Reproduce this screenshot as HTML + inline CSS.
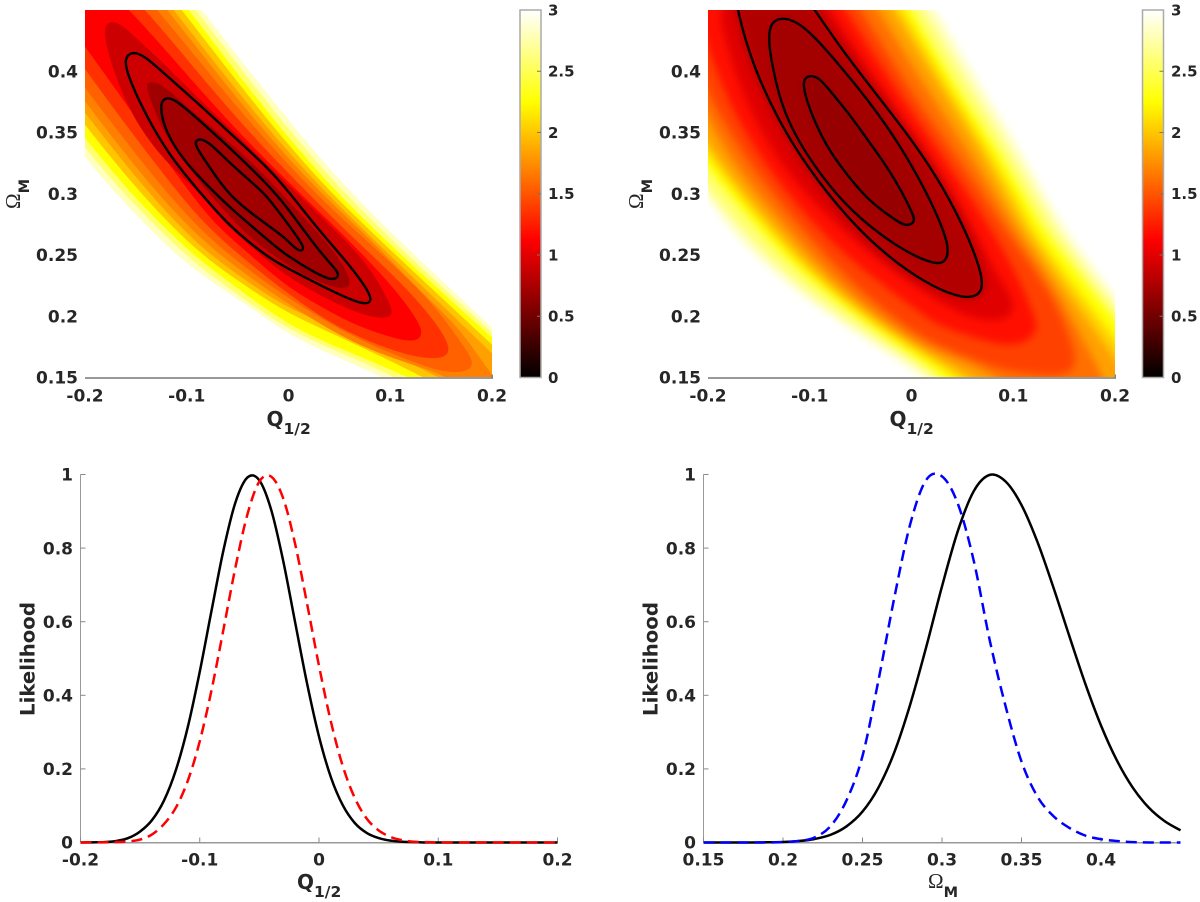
<!DOCTYPE html>
<html><head><meta charset="utf-8"><title>Likelihood contours</title>
<style>
html,body{margin:0;padding:0;background:#fff;width:1200px;height:902px;overflow:hidden}
svg{display:block}
text{font-family:"DejaVu Sans","Liberation Sans",sans-serif;font-weight:700;fill:#262626}
.om{font-family:"Liberation Serif",serif;font-weight:400}
</style></head>
<body>
<svg id="fig" xmlns="http://www.w3.org/2000/svg" width="1200" height="902" viewBox="0 0 1200 902">
<defs>
<linearGradient id="hotGrad" x1="0" y1="1" x2="0" y2="0">
<stop offset="0" stop-color="#000"/><stop offset="0.375" stop-color="#f00"/><stop offset="0.75" stop-color="#ff0"/><stop offset="1" stop-color="#fff"/>
</linearGradient>
<clipPath id="clipA"><rect x="85" y="10" width="407" height="367.5"/></clipPath>
<clipPath id="clipB"><rect x="708" y="10" width="407" height="367.5"/></clipPath>
<filter id="smooth" x="-10%" y="-10%" width="120%" height="120%" color-interpolation-filters="sRGB"><feGaussianBlur stdDeviation="4"/></filter>
</defs>
<g id="panelA"></g>
<g id="panelB"></g>
<g id="panelC"></g>
<g id="panelD"></g>

<rect x="520" y="10" width="21" height="367.5" fill="url(#hotGrad)" stroke="#aaa" stroke-width="1.5"/>
<rect x="1142.5" y="10" width="21" height="367.5" fill="url(#hotGrad)" stroke="#aaa" stroke-width="1.5"/>

<text x="266.5" y="426" font-size="20">Q<tspan font-size="15.5" dy="8">1/2</tspan></text>
<text x="889.5" y="426" font-size="20">Q<tspan font-size="15.5" dy="8">1/2</tspan></text>
<text transform="translate(20,209) rotate(-90)"><tspan class="om" font-size="21">Ω</tspan><tspan font-size="14.5" dy="9">M</tspan></text>
<text transform="translate(643,209) rotate(-90)"><tspan class="om" font-size="21">Ω</tspan><tspan font-size="14.5" dy="9">M</tspan></text>
<text x="297" y="889" font-size="20">Q<tspan font-size="15.5" dy="8">1/2</tspan></text>
<text x="928" y="888"><tspan class="om" font-size="21">Ω</tspan><tspan font-size="14.5" dy="9">M</tspan></text>
<text transform="translate(34.5,659) rotate(-90)" text-anchor="middle" font-size="19.7">Likelihood</text>
<text transform="translate(657.5,659) rotate(-90)" text-anchor="middle" font-size="19.7">Likelihood</text>
</svg>
<script>
// ---- tick values ----
const qTicks = [-0.2, -0.1, 0, 0.1, 0.2];
const qTickLabels = ['-0.2', '-0.1', '0', '0.1', '0.2'];
const omegaTicks = [0.15, 0.2, 0.25, 0.3, 0.35, 0.4];
const omegaTickLabels = ['0.15', '0.2', '0.25', '0.3', '0.35', '0.4'];
const likeTicks = [0, 0.2, 0.4, 0.6, 0.8, 1];
const likeTickLabels = ['0', '0.2', '0.4', '0.6', '0.8', '1'];
const cbarTicks = [0, 0.5, 1, 1.5, 2, 2.5, 3];
const cbarTickLabels = ['0', '0.5', '1', '1.5', '2', '2.5', '3'];

// ---- left contour map: iso-lines as [Q, Omega] vertices, outermost first ----
const aLevelValues = [2.81, 2.58, 2.25, 2.0, 1.83, 1.69, 1.55, 1.34, 1.125, 0.9, 0.705];
const aLevel1 = [[-.108,.475],[-.085,.45],[-.003,.362],[.058,.303],[.131,.244],[.2,.191],[.247,.154],[.247,.115],[.129,.131],[.095,.15],[.046,.167],[-.003,.186],[-.036,.207],[-.069,.224],[-.102,.244],[-.134,.269],[-.173,.303],[-.2,.33],[-.234,.364],[-.234,.475]];
const aLevel2 = [[-.115,.475],[-.091,.45],[-.01,.362],[.051,.303],[.124,.244],[.2,.187],[.247,.15],[.247,.111],[.144,.131],[.11,.149],[.046,.172],[-.003,.19],[-.052,.219],[-.099,.247],[-.166,.303],[-.2,.338],[-.234,.372],[-.234,.475]];
const aLevel3 = [[-.121,.475],[-.098,.45],[-.017,.362],[.044,.303],[.118,.244],[.2,.183],[.247,.146],[.247,.107],[.159,.131],[.124,.149],[.046,.175],[-.003,.194],[-.05,.223],[-.095,.25],[-.159,.303],[-.2,.346],[-.234,.38],[-.234,.475]];
const aLevel4 = [[-.128,.475],[-.105,.45],[-.023,.362],[.038,.303],[.113,.244],[.2,.177],[.247,.14],[.247,.103],[.173,.131],[.137,.149],[.051,.183],[-.003,.203],[-.048,.228],[-.091,.253],[-.149,.303],[-.2,.356],[-.234,.393],[-.234,.475]];
const aLevel5 = [[-.136,.475],[-.113,.45],[-.03,.362],[.033,.303],[.107,.244],[.2,.17],[.247,.131],[.247,.095],[.188,.131],[.152,.149],[.056,.187],[-.003,.207],[-.045,.231],[-.087,.256],[-.141,.303],[-.2,.366],[-.234,.403],[-.234,.475]];
const aLevel6 = [[-.143,.475],[-.119,.45],[-.036,.362],[.028,.303],[.078,.265],[.129,.221],[.162,.195],[.18,.176],[.2,.152],[.218,.131],[.188,.135],[.159,.148],[.146,.154],[.112,.163],[.062,.178],[-.003,.211],[-.043,.235],[-.083,.26],[-.133,.303],[-.2,.375],[-.234,.413],[-.234,.475]];
const aLevel7 = [[-.156,.475],[-.128,.45],[-.043,.362],[.023,.303],[.068,.268],[.127,.224],[.154,.197],[.17,.178],[.182,.164],[.179,.155],[.154,.153],[.112,.166],[.062,.183],[-.003,.216],[-.041,.239],[-.079,.264],[-.123,.303],[-.2,.386],[-.234,.425],[-.234,.475]];
const aLevel8 = [[-.171,.475],[-.139,.45],[-.053,.362],[.016,.303],[.062,.265],[.112,.227],[.146,.194],[.16,.174],[.154,.165],[.127,.166],[.095,.174],[.046,.191],[-.003,.22],[-.038,.243],[-.074,.268],[-.112,.303],[-.2,.401],[-.234,.442],[-.234,.475]];
const aLevel9 = [[-.19,.475],[-.154,.45],[-.064,.362],[.008,.303],[.046,.273],[.095,.232],[.126,.199],[.133,.185],[.124,.178],[.095,.184],[.062,.194],[.029,.209],[-.003,.225],[-.036,.249],[-.069,.272],[-.1,.303],[-.2,.421],[-.234,.458],[-.234,.475]];
const aLevel10 = [[-.179,.441],[-.166,.44],[-.151,.428],[-.118,.403],[-.085,.375],[-.053,.35],[-.016,.32],[.009,.3],[.046,.27],[.078,.243],[.1,.211],[.103,.201],[.093,.197],[.062,.204],[.029,.218],[-.003,.233],[-.033,.254],[-.064,.276],[-.089,.303],[-.118,.323],[-.151,.358],[-.172,.399],[-.182,.43]];
const aLevel11 = [[-.138,.392],[-.124,.39],[-.102,.372],[-.069,.35],[-.036,.326],[-.003,.297],[.029,.268],[.046,.252],[.059,.234],[.061,.226],[.055,.222],[.039,.225],[.016,.233],[-.003,.243],[-.036,.262],[-.069,.291],[-.092,.315],[-.121,.346],[-.134,.373],[-.14,.387]];
const aConfOuter = [[-.155,.416],[-.143,.414],[-.118,.395],[-.085,.371],[-.053,.346],[-.02,.321],[-.001,.303],[.029,.271],[.062,.24],[.079,.22],[.082,.212],[.074,.209],[.046,.219],[-.003,.24],[-.02,.248],[-.058,.273],[-.089,.303],[-.118,.332],[-.144,.37],[-.159,.399],[-.161,.41]];
const aConfMiddle = [[-.121,.379],[-.111,.377],[-.085,.358],[-.053,.334],[-.02,.307],[-.003,.291],[.029,.254],[.047,.238],[.05,.233],[.044,.229],[.029,.234],[-.003,.25],[-.02,.262],[-.058,.289],[-.08,.307],[-.102,.326],[-.121,.35],[-.127,.373]];
const aConfInner = [[-.091,.345],[-.08,.344],[-.058,.325],[-.03,.305],[-.02,.297],[.006,.268],[.014,.258],[.015,.254],[.009,.253],[-.003,.264],[-.02,.274],[-.058,.297],[-.08,.325],[-.092,.339]];

// ---- right contour map ----
const bLevelValues = [2.81, 2.58, 2.25, 2.04, 1.83, 1.62, 1.41, 1.19, 0.99, 0.88, 0.78, 0.72, 0.66];
const bLevel1 = [[.012,.466],[.023,.45],[.072,.382],[.108,.333],[.141,.284],[.157,.263],[.2,.217],[.228,.184],[.228,.119],[.051,.119],[.014,.15],[-.024,.17],[-.08,.2],[-.137,.236],[-.182,.274],[-.2,.298],[-.231,.328],[-.3,.5]];
const bLevel2 = [[0,.466],[.012,.45],[.061,.382],[.098,.333],[.132,.284],[.147,.263],[.2,.207],[.228,.176],[.228,.119],[.062,.119],[.025,.15],[-.02,.174],[-.077,.204],[-.131,.24],[-.176,.279],[-.2,.305],[-.231,.335],[-.3,.5]];
const bLevel3 = [[-.011,.466],[0,.45],[.047,.382],[.087,.333],[.12,.284],[.136,.263],[.2,.1975],[.228,.166],[.228,.119],[.07,.119],[.035,.15],[-.016,.177],[-.071,.21],[-.122,.245],[-.171,.291],[-.2,.321],[-.231,.355],[-.3,.5]];
const bLevel4 = [[-.02,.466],[-.009,.45],[.04,.382],[.078,.333],[.111,.284],[.124,.263],[.2,.181],[.228,.151],[.228,.119],[.085,.119],[.049,.15],[-.014,.18],[-.068,.212],[-.118,.249],[-.178,.306],[-.2,.333],[-.231,.364],[-.3,.5]];
const bLevel5 = [[-.03,.466],[-.018,.45],[.032,.382],[.07,.333],[.101,.284],[.117,.263],[.158,.214],[.2,.165],[.228,.135],[.228,.119],[.1,.119],[.062,.15],[.027,.164],[-.011,.183],[-.065,.215],[-.114,.252],[-.186,.322],[-.2,.344],[-.231,.374],[-.3,.5]];
const bLevel6 = [[-.045,.466],[-.033,.45],[.017,.382],[.057,.333],[.092,.284],[.108,.263],[.145,.219],[.175,.17],[.19,.149],[.196,.119],[.115,.119],[.093,.15],[.027,.17],[-.007,.185],[-.062,.219],[-.107,.257],[-.174,.322],[-.2,.363],[-.227,.404],[-.3,.5]];
const bLevel7 = [[-.062,.466],[-.05,.45],[0,.382],[.042,.333],[.082,.284],[.098,.263],[.138,.219],[.16,.175],[.162,.158],[.148,.15],[.093,.155],[.06,.165],[.027,.176],[-.002,.189],[-.056,.225],[-.099,.263],[-.159,.322],[-.197,.377],[-.2,.385],[-.223,.431],[-.3,.5]];
const bLevel8 = [[-.077,.466],[-.065,.45],[-.013,.382],[.029,.333],[.068,.284],[.084,.263],[.108,.227],[.122,.1975],[.124,.189],[.114,.179],[.093,.175],[.06,.183],[.027,.192],[.01,.202],[-.047,.237],[-.09,.269],[-.144,.322],[-.182,.377],[-.205,.431],[-.23,.49]];
const bLevel9 = [[-.092,.466],[-.08,.45],[-.026,.382],[.017,.333],[.053,.284],[.066,.263],[.085,.233],[.1,.214],[.1,.2],[.08,.195],[.055,.2],[.029,.21],[-.035,.246],[-.08,.279],[-.129,.322],[-.165,.377],[-.186,.431],[-.193,.466]];
const bLevel10 = [[-.1,.466],[-.089,.45],[-.036,.39],[.001,.35],[.031,.314],[.058,.274],[.074,.235],[.077,.219],[.064,.212],[.042,.214],[.012,.223],[-.026,.245],[-.065,.275],[-.107,.318],[-.139,.363],[-.163,.409],[-.176,.45],[-.18,.466]];
const bConfOuter = [[-.174,.466],[-.171,.45],[-.158,.409],[-.133,.363],[-.103,.322],[-.062,.279],[-.024,.249],[.014,.227],[.044,.216],[.063,.215],[.071,.223],[.067,.241],[.051,.274],[.025,.314],[-.005,.35],[-.043,.39],[-.073,.423],[-.095,.45],[-.109,.466],[-.137,.477]];
const bConfMiddle = [[-.128,.444],[-.113,.441],[-.095,.428],[-.073,.407],[-.043,.377],[-.013,.342],[.014,.303],[.033,.268],[.037,.252],[.032,.243],[.021,.243],[-.005,.252],[-.043,.274],[-.073,.298],[-.103,.331],[-.126,.366],[-.137,.404],[-.141,.428],[-.138,.44]];
const bConfInner = [[-.101,.397],[-.091,.395],[-.08,.384],[-.062,.366],[-.043,.344],[-.024,.322],[-.009,.301],[.001,.284],[.004,.277],[-.005,.273],[-.017,.279],[-.043,.295],[-.065,.317],[-.084,.339],[-.099,.366],[-.106,.385],[-.106,.393]];

// ---- marginal likelihood curves ----
const qGrid = [-.2,-.19,-.18,-.17,-.16,-.15,-.14,-.13,-.12,-.11,-.1,-.09,-.08,-.07,-.06,-.05,-.04,-.03,-.02,-.01,0,.01,.02,.03,.04,.05,.06,.07,.08,.09,.1,.12,.14,.16,.18,.2];
const qLikeBlack = [0,.0005,.001,.004,.012,.03,.061,.114,.197,.314,.464,.632,.796,.925,.992,.984,.903,.765,.598,.432,.288,.177,.101,.053,.026,.012,.005,.002,.001,0,0,0,0,0,0,0];
const qLikeRed = [0,0,.0005,.001,.003,.008,.022,.05,.095,.168,.275,.416,.581,.749,.892,.981,.994,.935,.811,.649,.48,.328,.207,.121,.065,.033,.015,.006,.002,.001,0,0,0,0,0,0];
const omGrid = [.15,.16,.17,.18,.19,.2,.21,.22,.23,.24,.25,.26,.27,.28,.29,.3,.31,.32,.33,.34,.35,.36,.37,.38,.39,.4,.41,.42,.43,.44,.45];
const omLikeBlack = [0,0,0,0,.0006,.0015,.004,.0096,.021,.044,.084,.149,.245,.375,.53,.696,.847,.955,.999,.981,.917,.817,.694,.562,.433,.318,.223,.149,.095,.058,.033];
const omLikeBlue = [0,0,0,0,0,.001,.004,.014,.045,.115,.235,.44,.665,.865,.985,.995,.92,.765,.55,.37,.22,.125,.072,.04,.019,.009,.004,.001,0,0,0];

// ---- helpers ----
const NS = 'http://www.w3.org/2000/svg';
function make(tag, parent) { const n = document.createElementNS(NS, tag); parent.appendChild(n); return n; }
function axes(p) {
  return {
    x: v => p.x0 + (v - p.xMin) / (p.xMax - p.xMin) * (p.x1 - p.x0),
    y: v => p.y0 - (v - p.yMin) / (p.yMax - p.yMin) * (p.y0 - p.y1)
  };
}
function closedPath(pts, ax) {
  const P = pts.map(d => [ax.x(d[0]), ax.y(d[1])]), n = P.length;
  const knot = (a, b, c) => [(a[0] + 4 * b[0] + c[0]) / 6, (a[1] + 4 * b[1] + c[1]) / 6];
  const k0 = knot(P[n - 1], P[0], P[1]);
  let s = 'M' + k0[0].toFixed(1) + ' ' + k0[1].toFixed(1);
  for (let i = 0; i < n; i++) {
    const b = P[i], c = P[(i + 1) % n], e = P[(i + 2) % n];
    const k = knot(b, c, e);
    s += 'C' + ((2 * b[0] + c[0]) / 3).toFixed(1) + ' ' + ((2 * b[1] + c[1]) / 3).toFixed(1) + ' ' +
         ((b[0] + 2 * c[0]) / 3).toFixed(1) + ' ' + ((b[1] + 2 * c[1]) / 3).toFixed(1) + ' ' +
         k[0].toFixed(1) + ' ' + k[1].toFixed(1);
  }
  return s + 'Z';
}
function openPath(xs, ys, ax) {
  const P = xs.map((v, i) => [ax.x(v), ax.y(ys[i])]);
  let s = 'M' + P[0][0].toFixed(2) + ' ' + P[0][1].toFixed(2);
  for (let i = 0; i < P.length - 1; i++) {
    const a = P[Math.max(i - 1, 0)], b = P[i], c = P[i + 1], e = P[Math.min(i + 2, P.length - 1)];
    s += 'C' + (b[0] + (c[0] - a[0]) / 6).toFixed(2) + ' ' + (b[1] + (c[1] - a[1]) / 6).toFixed(2) + ' ' +
         (c[0] - (e[0] - b[0]) / 6).toFixed(2) + ' ' + (c[1] - (e[1] - b[1]) / 6).toFixed(2) + ' ' +
         c[0].toFixed(2) + ' ' + c[1].toFixed(2);
  }
  return s;
}
function hot(v) {
  const t = v / 3, cl = u => Math.max(0, Math.min(1, u));
  const r = cl(t / 0.375), g = cl((t - 0.375) / 0.375), b = cl((t - 0.75) / 0.25);
  return 'rgb(' + Math.round(r * 255) + ',' + Math.round(g * 255) + ',' + Math.round(b * 255) + ')';
}
function tickLabel(parent, x, y, str, anchor, size) {
  const t = make('text', parent);
  
  
  t.setAttribute('x', x);
  t.setAttribute('y', y);
  t.setAttribute('text-anchor', anchor);
  t.setAttribute('font-size', size);
  t.textContent = str;
}
function axisLine(parent, x1, y1, x2, y2, w, col) {
  const l = make('line', parent);
  
  
  l.setAttribute('x1', x1); l.setAttribute('y1', y1);
  l.setAttribute('x2', x2); l.setAttribute('y2', y2);
  l.setAttribute('stroke', col); l.setAttribute('stroke-width', w);
}

// ---- contour panels ----
const aPanel = { x0: 85, x1: 492, y0: 377.5, y1: 10, xMin: -0.2, xMax: 0.2, yMin: 0.15, yMax: 0.45 };
const bPanel = { x0: 708, x1: 1115, y0: 377.5, y1: 10, xMin: -0.2, xMax: 0.2, yMin: 0.15, yMax: 0.45 };
function drawMap(root, p, clipId, levels, values, blurred, conf) {
  const ax = axes(p);
  const clip = make('g', root);
  clip.setAttribute('clip-path', 'url(#' + clipId + ')');
  const bands = make('g', clip);
  
  
  if (blurred) bands.setAttribute('filter', 'url(#smooth)');
  levels.forEach((pts, i) => {
    const band = make('path', bands);
    
    
    band.setAttribute('d', closedPath(pts, ax));
    band.setAttribute('fill', hot(values[i]));
  });
  conf.forEach(pts => {
    const line = make('path', clip);
    
    
    line.setAttribute('d', closedPath(pts, ax));
    line.setAttribute('fill', 'none');
    line.setAttribute('stroke', '#000');
    line.setAttribute('stroke-width', '2.4');
  });
  axisLine(root, p.x0, p.y0 + 0.5, p.x1 + 1, p.y0 + 0.5, 2, '#999');
  axisLine(root, p.x1 + 0.3, p.y0 + 0.5, p.x1 + 0.3, p.y0 - 3, 1.2, '#777');
  qTicks.forEach((v, i) => tickLabel(root, ax.x(v), 401.5, qTickLabels[i], 'middle', 17));
  omegaTicks.forEach((v, i) => tickLabel(root, p.x0 - 7, ax.y(v) + 6.2, omegaTickLabels[i], 'end', 17));
}
drawMap(document.getElementById('panelA'), aPanel, 'clipA',
  [aLevel1, aLevel2, aLevel3, aLevel4, aLevel5, aLevel6, aLevel7, aLevel8, aLevel9, aLevel10, aLevel11],
  aLevelValues, false, [aConfOuter, aConfMiddle, aConfInner]);
drawMap(document.getElementById('panelB'), bPanel, 'clipB',
  [bLevel1, bLevel2, bLevel3, bLevel4, bLevel5, bLevel6, bLevel7, bLevel8, bLevel9, bLevel10, bConfOuter, bConfMiddle, bConfInner],
  bLevelValues, true, [bConfOuter, bConfMiddle, bConfInner]);

// ---- colorbars ----
[[520, 541, 548], [1142.5, 1163.5, 1171]].forEach(c => {
  const root = document.getElementById('fig');
  const ax = axes({ x0: 0, x1: 1, y0: 377.5, y1: 10, xMin: 0, xMax: 1, yMin: 0, yMax: 3 });
  cbarTicks.forEach((v, i) => {
    if (i > 0 && i < cbarTicks.length - 1) {
      const tk = make('line', root);
      
      
      tk.setAttribute('x1', c[1] - 4); tk.setAttribute('x2', c[1]);
      tk.setAttribute('y1', ax.y(v)); tk.setAttribute('y2', ax.y(v));
      tk.setAttribute('stroke', '#777'); tk.setAttribute('stroke-width', '1');
    }
    tickLabel(root, c[2], ax.y(v) + 5.4, cbarTickLabels[i], 'start', 15);
  });
});

// ---- likelihood panels ----
const cPanel = { x0: 80.5, x1: 557.5, y0: 842.5, y1: 474.5, xMin: -0.2, xMax: 0.2, yMin: 0, yMax: 1 };
const dPanel = { x0: 703.5, x1: 1180.5, y0: 842.5, y1: 474.5, xMin: 0.15, xMax: 0.45, yMin: 0, yMax: 1 };
function drawLike(root, p, xTicks, xLabels, xs, solid, dashed, dashColor) {
  const ax = axes(p);
  axisLine(root, p.x0, p.y1, p.x0, p.y0, 1, '#999');
  axisLine(root, p.x0, p.y0 + 0.3, p.x1, p.y0 + 0.3, 1.5, '#999');
  xTicks.forEach((v, i) => {
    axisLine(root, ax.x(v), p.y0, ax.x(v), p.y0 - 5, 1, '#888');
    tickLabel(root, ax.x(v), 865.5, xLabels[i], 'middle', 17);
  });
  likeTicks.forEach((v, i) => {
    axisLine(root, p.x0, ax.y(v), p.x0 + 5, ax.y(v), 1, '#888');
    tickLabel(root, p.x0 - 7.5, ax.y(v) + 6.2, likeTickLabels[i], 'end', 17);
  });
  const a = make('path', root);
  
  
  a.setAttribute('d', openPath(xs, solid, ax));
  a.setAttribute('fill', 'none');
  a.setAttribute('stroke', '#000');
  a.setAttribute('stroke-width', '2.5');
  const b = make('path', root);
  
  
  b.setAttribute('d', openPath(xs, dashed, ax));
  b.setAttribute('fill', 'none');
  b.setAttribute('stroke', dashColor);
  b.setAttribute('stroke-width', '2.5');
  b.setAttribute('stroke-dasharray', '11 6');
}
drawLike(document.getElementById('panelC'), cPanel, qTicks, qTickLabels, qGrid, qLikeBlack, qLikeRed, '#f00');
drawLike(document.getElementById('panelD'), dPanel, omegaTicks, omegaTickLabels, omGrid, omLikeBlack, omLikeBlue, '#00f');
</script>
</body></html>
